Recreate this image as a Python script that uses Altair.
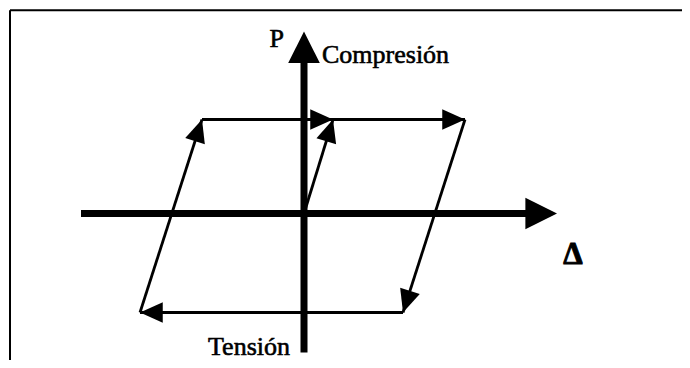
import math
import altair as alt
import pandas as pd

# ---- Data (Δ = displacement, P = load; arbitrary units) ----
# Loading path, each segment ends in an arrowhead
seg_delta_start = [0.0, -10.2, 2.9, 16.1, 9.9, -16.4]
seg_p_start = [0.0, 9.4, 9.4, 9.4, -9.9, -9.9]
seg_delta_end = [2.9, 2.9, 16.1, 9.9, -16.4, -10.2]
seg_p_end = [9.4, 9.4, 9.4, -9.9, -9.9, 9.4]

# Coordinate axes extents
delta_axis = [-22.3, 25.3]
p_axis = [-13.9, 18.2]

label_p = "P"
label_comp = "Compresión"
label_tens = "Tensión"
label_delta = "Δ"

# ---- Layout / style ----
W, H = 674, 352
x_domain = [-29.6, 37.8]
y_domain = [-14.65, 20.55]
FONT = "Liberation Serif"
INK = "#000000"

xs = alt.Scale(domain=x_domain, nice=False, zero=False)
ys = alt.Scale(domain=y_domain, nice=False, zero=False)

segs = pd.DataFrame({
    "x": seg_delta_start, "y": seg_p_start,
    "x2": seg_delta_end, "y2": seg_p_end,
})
segs["ang"] = [
    math.degrees(math.atan2(-(b2 - b1), (a2 - a1))) % 360
    for a1, b1, a2, b2 in zip(segs.x, segs.y, segs.x2, segs.y2)
]

arrow_head_len = 2.0  # data units the axis line stops short of its tip
axes = pd.DataFrame({
    "x": [delta_axis[0], 0.0],
    "y": [0.0, p_axis[0]],
    "x2": [delta_axis[1] - arrow_head_len, 0.0],
    "y2": [0.0, p_axis[1] - arrow_head_len],
})
axis_tips = pd.DataFrame({
    "x": [delta_axis[1], 0.0],
    "y": [0.0, p_axis[1]],
    "ang": [0.0, 270.0],
})

big_head = "M0,0 L-2,-1 L-2,1 Z"
small_head = "M0,0 L-2.1,-0.95 L-2.1,0.95 Z"

frame_df = pd.DataFrame({"k": [0]})
frame_top = alt.Chart(frame_df).mark_rule(color=INK, strokeWidth=2).encode(
    x=alt.value(2), x2=alt.value(W), y=alt.value(2.3)
)
frame_left = alt.Chart(frame_df).mark_rule(color=INK, strokeWidth=2).encode(
    x=alt.value(2), y=alt.value(2.3), y2=alt.value(H)
)

axis_lines = alt.Chart(axes).mark_rule(color=INK, strokeWidth=7).encode(
    x=alt.X("x:Q", scale=xs, axis=None),
    y=alt.Y("y:Q", scale=ys, axis=None),
    x2="x2:Q",
    y2="y2:Q",
)
axis_heads = alt.Chart(axis_tips).mark_point(
    shape=big_head, filled=True, size=1000, color=INK, opacity=1, strokeWidth=0
).encode(
    x=alt.X("x:Q", scale=xs, axis=None),
    y=alt.Y("y:Q", scale=ys, axis=None),
    angle=alt.Angle("ang:Q", scale=None),
)

loop_lines = alt.Chart(segs).mark_rule(color=INK, strokeWidth=2.8).encode(
    x=alt.X("x:Q", scale=xs, axis=None),
    y=alt.Y("y:Q", scale=ys, axis=None),
    x2="x2:Q",
    y2="y2:Q",
)
loop_heads = alt.Chart(segs).mark_point(
    shape=small_head, filled=True, size=470, color=INK, opacity=1, strokeWidth=0
).encode(
    x=alt.X("x2:Q", scale=xs, axis=None),
    y=alt.Y("y2:Q", scale=ys, axis=None),
    angle=alt.Angle("ang:Q", scale=None),
)


def label(text, x, y, dx, dy, align, size, weight="normal", sw=0.6):
    df = pd.DataFrame({"x": [x], "y": [y], "t": [text]})
    return alt.Chart(df).mark_text(
        font=FONT, fontSize=size, fontWeight=weight, color=INK,
        stroke=INK, strokeWidth=sw,
        align=align, baseline="alphabetic", dx=dx, dy=dy,
    ).encode(
        x=alt.X("x:Q", scale=xs, axis=None),
        y=alt.Y("y:Q", scale=ys, axis=None),
        text="t:N",
    )


t_p = label(label_p, 0.0, p_axis[1], -20, 15.5, "right", 26)
t_comp = label(label_comp, 0.0, p_axis[1], 18, 31.5, "left", 26)
t_tens = label(label_tens, 0.0, p_axis[0], -14, 2.5, "right", 26)
t_delta = label(label_delta, delta_axis[1], 0.0, 16, 50.5, "center", 31, "bold", 1.0)

chart = alt.layer(
    frame_top, frame_left, axis_lines, axis_heads, loop_lines, loop_heads,
    t_p, t_comp, t_tens, t_delta,
).properties(
    width=W, height=H, padding=0,
    autosize=alt.AutoSizeParams(type="none"),
    background="white",
).configure_view(stroke=None)

chart.save("out.html", embed_options={"renderer": "svg", "actions": False})
